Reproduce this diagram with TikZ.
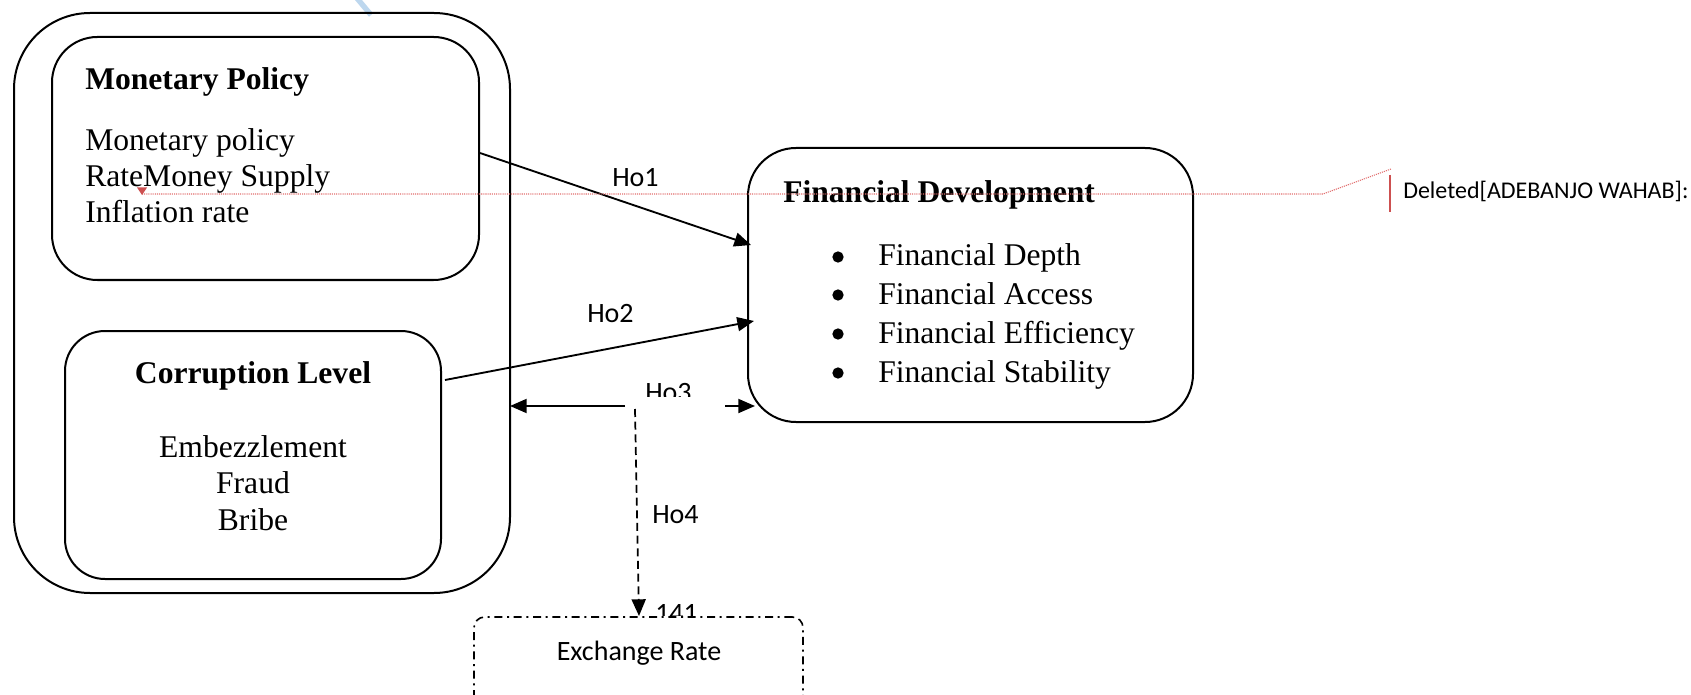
\documentclass[tikz,border=0pt]{standalone}
\usepackage{fontspec}
\setmainfont{Liberation Serif}
\newfontfamily\calib{Carlito}
\usetikzlibrary{arrows.meta,fit}
\definecolor{revred}{RGB}{226,110,110}
\definecolor{revdark}{RGB}{205,80,80}
\definecolor{lblue}{RGB}{189,215,238}
\begin{document}
\begin{tikzpicture}[x=0.75pt,y=-0.75pt,
  box/.style={draw,line width=1.5pt,inner sep=0pt},
  arr/.style={line width=1.4pt,-{Triangle[length=12.5pt,width=10.5pt]}},
  txt/.style={font=\fontsize{23.7}{27}\selectfont,inner sep=0pt,anchor=base west},
  ctxt/.style={font=\fontsize{23.7}{27}\selectfont,inner sep=0pt,anchor=base},
  ttl/.style={font=\bfseries\fontsize{23.7}{27}\selectfont,inner sep=0pt,anchor=base west},
  lbl/.style={font=\calib\fontsize{21}{25}\selectfont,inner sep=0pt,anchor=base west},
  bul/.style={circle,fill,inner sep=0pt,minimum size=8.5pt},
]
\clip (0,0) rectangle (1691,695);
\fill[white] (0,0) rectangle (1691,695);
% faint blue stroke at the top
\draw[line width=4pt,lblue] (356,-3) -- (371,15);
% boxes
\node[box,rounded corners=57pt,fit={(14,13)(510,593)}] (outer) {};
\node[box,rounded corners=34pt,fit={(52,37)(479,280)}] (mp) {};
\node[box,rounded corners=30pt,fit={(65,331)(441,579)}] (cl) {};
\node[box,rounded corners=36pt,fit={(748,148)(1193,422)}] (fd) {};
\node[draw,line width=1.2pt,dash pattern=on 6pt off 3.5pt on 1.5pt off 3.5pt,rounded corners=8pt,inner sep=0pt,fit={(474,617)(803,730)}] (er) {};
% monetary policy texts
\node[ttl] (mpt) at (85,90) {Monetary Policy};
\node[txt] (mp1) at (85,151) {Monetary policy};
\node[txt] (mp2) at (85,187) {RateMoney Supply};
\node[txt] (mp3) at (85,223) {Inflation rate};
% corruption texts
\node[ttl,anchor=base] (clt) at (253,383) {Corruption Level};
\node[ctxt] (cl1) at (253,457) {Embezzlement};
\node[ctxt] (cl2) at (253,493) {Fraud};
\node[ctxt] (cl3) at (253,530) {Bribe};
% financial development texts
\node[ttl] (fdt) at (783,203) {Financial Development};
\node[bul] (b1) at (838,257) {};
\node[bul] (b2) at (838,295) {};
\node[bul] (b3) at (838,334) {};
\node[bul] (b4) at (838,373) {};
\node[txt] (fd1) at (878,266) {Financial Depth};
\node[txt] (fd2) at (878,304) {Financial Access};
\node[txt] (fd3) at (878,343) {Financial Efficiency};
\node[txt] (fd4) at (878,382) {Financial Stability};
% exchange rate
\node[lbl,anchor=base] (ert) at (639,660) {Exchange Rate};
% labels
\node[lbl] (h1) at (612,187) {Ho1};
\node[lbl] (h2) at (587,322) {Ho2};
\begin{scope}
  \clip (600,360) rectangle (720,396);
  \node[lbl] (h3) at (645,401) {Ho3};
\end{scope}
\node[lbl] (h4) at (652,523) {Ho4};
\begin{scope}
  \clip (645,590) rectangle (720,615.5);
  \node[lbl] (n141) at (655,622) {141};
\end{scope}
% connectors
\coordinate (h1s) at (480,153);
\coordinate (h1e) at (751,245);
\coordinate (h2s) at (445,380);
\coordinate (h2e) at (754,321);
\coordinate (h3a) at (625,406);
\coordinate (h3b) at (510,406);
\coordinate (h3c) at (725,406);
\coordinate (h3d) at (755,406);
\coordinate (h4s) at (635,409);
\coordinate (h4e) at (639,616);
\draw[arr] (h1s) -- (h1e);
\draw[arr] (h2s) -- (h2e);
\draw[arr] (h3a) -- (h3b);
\draw[arr] (h3c) -- (h3d);
\draw[arr,line width=1.3pt,dash pattern=on 6pt off 3.5pt] (h4s) -- (h4e);
% revision marks
\coordinate (rd1) at (142,194);
\coordinate (rd2) at (1323,194);
\coordinate (rd3) at (1391,169);
\draw[revred,line width=0.8pt,dash pattern=on 0.8pt off 0.8pt] (rd1) -- (rd2) -- (rd3);
\fill[revdark] (137,187.5) -- (147,187.5) -- (142,195) -- cycle;
\draw[revdark,line width=1.5pt] (1390,175) -- (1390,212);
\node[font=\calib\fontsize{18}{22}\selectfont,inner sep=0pt,anchor=base west] (del) at (1403,199) {Deleted[ADEBANJO WAHAB]:};
\end{tikzpicture}
\end{document}
